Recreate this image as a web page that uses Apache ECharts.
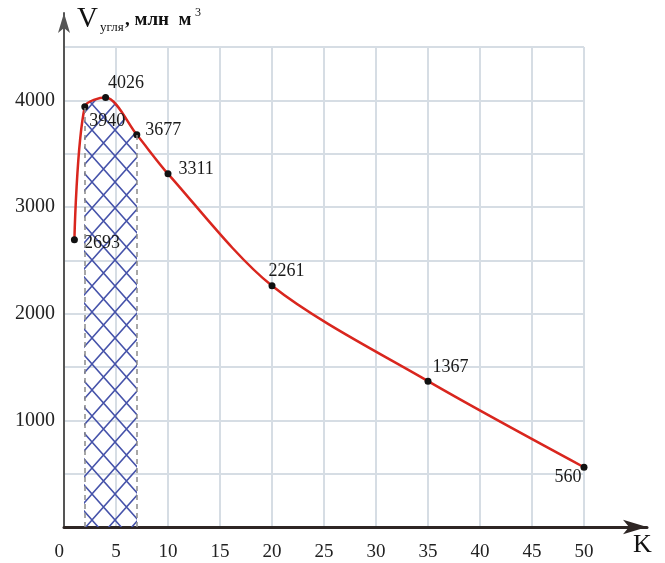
<!DOCTYPE html>
<html><head><meta charset="utf-8">
<script src="https://cdn.jsdelivr.net/npm/echarts@6/dist/echarts.min.js"></script>
<style>html,body{margin:0;padding:0;background:#fff}#c{width:665px;height:563px}</style>
</head><body><div id="c"></div>
<script>
// ---- data ----
const kValues = [1, 2, 4, 7, 10, 20, 35, 50];
const volumes = [2693, 3940, 4026, 3677, 3311, 2261, 1367, 560];
const xTickLabels = [0, 5, 10, 15, 20, 25, 30, 35, 40, 45, 50];
const yTickLabels = [1000, 2000, 3000, 4000];
const hatchRange = [2, 7];
// ---- label placement (style) ----
const labelPlacement = [
  {position: 'right', offset: [1, 4]},
  {position: 'right', offset: [-4, 15]},
  {position: 'right', offset: [-6, -14]},
  {position: 'right', offset: [0, -5]},
  {position: 'right', offset: [2, -5]},
  {position: 'right', offset: [-12, -15]},
  {position: 'right', offset: [-4, -14]},
  {position: 'left', offset: [6, 10]}
];

const SERIF = '"Liberation Serif", "DejaVu Serif", serif';
const GRID = {left: 64, right: 81, top: 47, bottom: 36};
const SMOOTH = 0.3;

function makeHatch() {
  const w = 23, h = 26;
  const c = document.createElement('canvas');
  c.width = w; c.height = h;
  const g = c.getContext('2d');
  g.strokeStyle = '#4653aa';
  g.lineWidth = 1.5;
  g.beginPath();
  g.moveTo(-w * 0.1, -h * 0.1); g.lineTo(w * 1.1, h * 1.1);
  g.moveTo(w * 1.1, -h * 0.1); g.lineTo(-w * 0.1, h * 1.1);
  g.stroke();
  return c;
}

const mainData = kValues.map((k, i) => ({
  value: [k, volumes[i]],
  label: {position: labelPlacement[i].position, offset: labelPlacement[i].offset}
}));

// subset for hatch: include neighbours so smoothing matches main curve
let iStart = kValues.findIndex(k => k >= hatchRange[0]);
let iEnd = kValues.length - 1 - [...kValues].reverse().findIndex(k => k <= hatchRange[1]);
iStart = Math.max(0, iStart - 1);
iEnd = Math.min(kValues.length - 1, iEnd + 1);
const hatchData = [];
for (let i = iStart; i <= iEnd; i++) hatchData.push([kValues[i], volumes[i]]);

const vAt = k => volumes[kValues.indexOf(k)];

const chart = echarts.init(document.getElementById('c'), null, {renderer: 'canvas'});

function buildOption(hatchLeft, hatchRight) {
  return {
    animation: false,
    backgroundColor: '#fff',
    grid: [
      {left: GRID.left, right: GRID.right, top: GRID.top, bottom: GRID.bottom},
      {left: hatchLeft, right: hatchRight, top: GRID.top, bottom: GRID.bottom},
      {left: GRID.left, right: 18, top: 13, bottom: GRID.bottom}
    ],
    xAxis: [
      {
        type: 'value', gridIndex: 0, min: 0, max: 50, interval: 5,
        axisLine: {show: false}, axisTick: {show: false},
        axisLabel: {
          margin: 16, color: '#222', fontFamily: SERIF, fontSize: 19,
          alignMinLabel: 'right',
          formatter: v => xTickLabels.includes(v) ? String(v) : ''
        },
        splitLine: {show: true, lineStyle: {color: '#d6dde4', width: 2}}
      },
      {type: 'value', gridIndex: 1, min: hatchRange[0], max: hatchRange[1], show: false},
      {
        type: 'value', gridIndex: 2, min: 0, max: 1,
        axisLine: {show: true, symbol: ['none', 'arrow'], symbolSize: [11, 24],
          lineStyle: {color: '#2e2624', width: 3}},
        axisTick: {show: false}, axisLabel: {show: false}, splitLine: {show: false}
      }
    ],
    yAxis: [
      {
        type: 'value', gridIndex: 0, min: 0, max: 4500, interval: 500,
        axisLine: {show: false}, axisTick: {show: false},
        axisLabel: {
          margin: 9, color: '#222', fontFamily: SERIF, fontSize: 20,
          formatter: v => yTickLabels.includes(v) ? String(v) : ''
        },
        splitLine: {show: true, lineStyle: {color: '#d6dde4', width: 2}}
      },
      {type: 'value', gridIndex: 1, min: 0, max: 4500, show: false},
      {
        type: 'value', gridIndex: 2, min: 0, max: 1,
        axisLine: {show: true, symbol: ['none', 'arrow'], symbolSize: [9, 20],
          lineStyle: {color: '#555', width: 2}},
        axisTick: {show: false}, axisLabel: {show: false}, splitLine: {show: false}
      }
    ],
    series: [
      {
        type: 'line', xAxisIndex: 1, yAxisIndex: 1, z: 1,
        data: hatchData, smooth: SMOOTH, symbol: 'none', silent: true,
        lineStyle: {width: 0, opacity: 0},
        areaStyle: {color: {image: makeHatch(), repeat: 'repeat'}, opacity: 1}
      },
      {
        type: 'line', xAxisIndex: 0, yAxisIndex: 0, z: 3,
        data: mainData, smooth: SMOOTH,
        symbol: 'circle', symbolSize: 7,
        itemStyle: {color: '#111'},
        lineStyle: {color: '#d9261e', width: 2.5},
        label: {show: true, color: '#1a1a1a', fontFamily: SERIF, fontSize: 18,
          formatter: p => String(p.value[1])},
        markLine: {
          silent: true, symbol: 'none', label: {show: false},
          lineStyle: {color: '#8a8a8a', type: [5, 4], width: 1.5},
          data: hatchRange.map(k => [{coord: [k, 0]}, {coord: [k, vAt(k)]}])
        }
      }
    ],
    graphic: [
      {type: 'text', left: 77, top: 5, style: {text: 'V', font: '29px ' + SERIF, fill: '#111'}},
      {type: 'text', left: 100, top: 21, style: {text: 'угля', font: '13px ' + SERIF, fill: '#111'}},
      {type: 'text', left: 125, top: 11, style: {text: ', млн  м', font: 'bold 19px ' + SERIF, fill: '#111'}},
      {type: 'text', left: 195, top: 7, style: {text: '3', font: '12px ' + SERIF, fill: '#111'}},
      {type: 'text', left: 633, top: 532, style: {text: 'K', font: '26px ' + SERIF, fill: '#111'}}
    ]
  };
}

chart.setOption(buildOption(0, 0));
const pxL = chart.convertToPixel({xAxisIndex: 0}, hatchRange[0]);
const pxR = chart.convertToPixel({xAxisIndex: 0}, hatchRange[1]);
chart.setOption(buildOption(pxL, 665 - pxR), true);
</script>
</body></html>
